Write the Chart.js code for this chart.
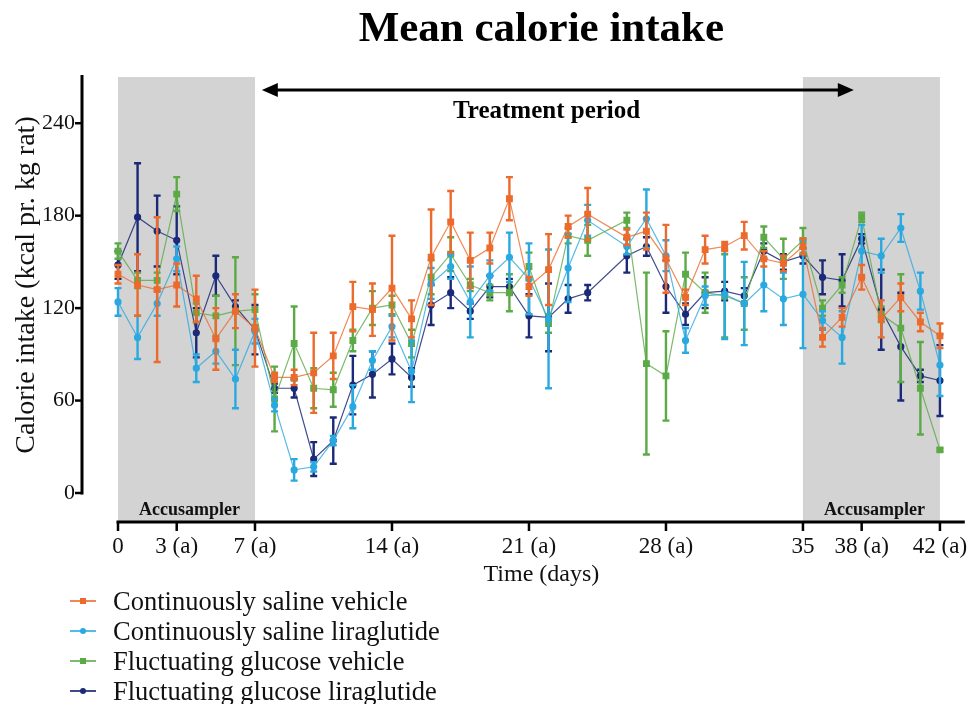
<!DOCTYPE html>
<html><head><meta charset="utf-8">
<script src="https://cdn.jsdelivr.net/npm/chart.js@4.4.1/dist/chart.umd.min.js"></script>
<style>
html,body{margin:0;padding:0;background:#fff;}
#wrap{position:relative;width:970px;height:704px;overflow:hidden;}
#c{position:absolute;left:0;top:0;}
#legend{position:absolute;left:70px;top:586px;font-family:"Liberation Serif","Times New Roman",serif;font-size:26.5px;color:#111;}
.row{height:30px;display:flex;align-items:center;white-space:nowrap;}
.sw{position:relative;width:26px;height:30px;margin-right:17px;flex:none;}
.sw .ln{position:absolute;left:0;right:0;top:14px;height:1.5px;}
.sw .mk{position:absolute;left:10px;top:12px;width:6px;height:6px;}
</style></head>
<body><div id="wrap"><canvas id="c" width="970" height="704"></canvas><div id="legend"></div></div>
<script>
// ---------- data ----------
const days = [0,1,2,3,4,5,6,7,8,9,10,11,12,13,14,15,16,17,18,19,20,21,22,23,24,26,27,28,29,30,31,32,33,34,35,36,37,38,39,40,41,42];

const salineVehicle    = [142,135,132,135,126,100,118,107,75,75,78,89,121,119,133,113,153,176,151,159,191,134,145,173,181,166,170,152,127,158,160,167,152,149,160,101,114,140,113,127,111,102];
const salineVehicleErr = [6,20,47,14,15,20,11,25,3,5,26,15,16,17,34,12,31,20,18,10,14,6,23,7,17,5,12,22,5,9,3,9,5,5,5,6,6,8,12,9,6,8];

const salineLira       = [124,101,123,152,81,92,74,105,57,15,17,34,56,86,108,79,136,147,124,141,153,139,113,146,177,160,178,154,99,128,129,123,135,126,129,112,101,157,154,172,131,83];
const salineLiraErr    = [9,14,8,8,9,8,19,8,4,7,3,3,14,6,7,20,10,8,23,10,16,23,45,22,10,5,19,10,8,6,29,27,17,17,35,6,17,17,11,9,12,20];

const glucoseVehicle   = [157,138,138,194,117,115,118,119,61,97,68,67,99,120,122,97,140,155,135,130,130,147,110,167,164,177,84,76,142,130,128,123,166,152,164,120,135,179,116,107,68,28];
const glucoseVehicleErr= [5,5,5,11,6,13,35,10,21,24,13,11,7,11,6,9,11,11,4,5,12,9,6,5,10,5,59,29,14,13,27,17,7,13,8,5,5,3,5,35,30,1];

const glucoseLira      = [148,179,170,164,104,141,121,106,68,68,22,34,70,77,87,75,122,130,118,134,134,115,114,126,130,154,160,134,116,130,131,128,157,150,154,140,138,165,119,95,76,73];
const glucoseLiraErr   = [9,35,23,22,16,13,4,16,3,6,11,15,19,15,10,6,13,10,5,7,5,14,22,9,5,11,6,17,7,10,6,5,5,5,5,11,17,3,26,35,4,23];

const seriesNames = ['Continuously saline vehicle','Continuously saline liraglutide','Fluctuating glucose vehicle','Fluctuating glucose liraglutide'];
const tickDays   = [0,3,7,14,21,28,35,38,42];
const tickLabels = ['0','3 (a)','7 (a)','14 (a)','21 (a)','28 (a)','35','38 (a)','42 (a)'];
const yTicks     = [0,60,120,180,240];
const shadedPeriods = [[0,7],[35,42]];
const shadeLabel = 'Accusampler';
const treatmentLabel = 'Treatment period';
const treatmentArrow = [7.35,37.6];

// ---------- styles ----------
const colors = ['#EC6A2C','#2AA9E0','#5BAA46','#1B2A78'];
const lineColors = ['rgba(236,106,44,0.8)','rgba(42,169,224,0.8)','rgba(91,170,70,0.8)','rgba(27,42,120,0.85)'];
const styles = ['rect','circle','rect','circle'];
const SERIF = '"Liberation Serif","Times New Roman",serif';

function pts(vals){ return days.map((d,i)=>({x:d,y:vals[i]})); }
const vals = [salineVehicle,salineLira,glucoseVehicle,glucoseLira];
const errs = [salineVehicleErr,salineLiraErr,glucoseVehicleErr,glucoseLiraErr];

const datasets = vals.map((v,k)=>({
  label: seriesNames[k],
  data: pts(v),
  errors: errs[k],
  borderColor: lineColors[k],
  backgroundColor: colors[k],
  pointBackgroundColor: colors[k],
  pointBorderColor: colors[k],
  pointStyle: styles[k],
  pointRadius: styles[k]==='rect'?4:3,
  borderWidth: 1.2,
  tension: 0,
  clip: false,
  errColor: colors[k]
}));

const errorBars = {
  id:'errorBars',
  beforeDatasetDraw(chart,args){
    const ds = chart.data.datasets[args.index];
    const ys = chart.scales.y, ctx = chart.ctx;
    ctx.save();
    ctx.strokeStyle = ds.errColor; ctx.lineWidth = 2.4; ctx.lineCap='butt';
    args.meta.data.forEach((pt,i)=>{
      const v = ds.data[i].y, e = ds.errors[i];
      const x = pt.x, yt = ys.getPixelForValue(v+e), yb = ys.getPixelForValue(v-e);
      ctx.beginPath();
      ctx.moveTo(x,yt); ctx.lineTo(x,yb);
      ctx.moveTo(x-3.5,yt); ctx.lineTo(x+3.5,yt);
      ctx.moveTo(x-3.5,yb); ctx.lineTo(x+3.5,yb);
      ctx.stroke();
    });
    ctx.restore();
  }
};

const AXIS_GAP = 29;
const decor = {
  id:'decor',
  beforeDatasetsDraw(chart){
    const {ctx, chartArea:a, scales:{x,y}} = chart;
    const xb = a.bottom + AXIS_GAP;
    ctx.save();
    ctx.fillStyle = '#D3D3D3';
    shadedPeriods.forEach(([s,e])=>{
      const x0 = x.getPixelForValue(s), x1 = x.getPixelForValue(e);
      ctx.fillRect(x0, a.top, x1-x0, xb-a.top);
    });
    // Accusampler labels
    ctx.fillStyle = '#111';
    ctx.font = 'bold 18px '+SERIF;
    ctx.textAlign='center'; ctx.textBaseline='middle';
    shadedPeriods.forEach(([s,e])=>{
      ctx.fillText(shadeLabel, x.getPixelForValue((s+e)/2)+3, xb-12);
    });
    // axes
    ctx.strokeStyle = '#000'; ctx.lineWidth = 3;
    const yax = a.left - 36;
    ctx.beginPath();
    ctx.moveTo(yax, a.top-2); ctx.lineTo(yax, y.getPixelForValue(0)+1.5);
    ctx.stroke();
    ctx.lineWidth = 2.5;
    yTicks.forEach(t=>{
      const py = y.getPixelForValue(t);
      ctx.beginPath(); ctx.moveTo(yax-7, py); ctx.lineTo(yax, py); ctx.stroke();
    });
    ctx.lineWidth = 3;
    ctx.beginPath();
    ctx.moveTo(x.getPixelForValue(0)-1.5, xb); ctx.lineTo(a.right, xb); ctx.stroke();
    ctx.lineWidth = 2.5;
    tickDays.forEach(t=>{
      const px = x.getPixelForValue(t);
      ctx.beginPath(); ctx.moveTo(px, xb); ctx.lineTo(px, xb+9); ctx.stroke();
    });
    // treatment arrow
    const ay = a.top + 13;
    const ax0 = x.getPixelForValue(treatmentArrow[0]), ax1 = x.getPixelForValue(treatmentArrow[1]);
    ctx.lineWidth = 3;
    ctx.beginPath(); ctx.moveTo(ax0+10, ay); ctx.lineTo(ax1-10, ay); ctx.stroke();
    ctx.fillStyle = '#000';
    ctx.beginPath(); ctx.moveTo(ax0, ay); ctx.lineTo(ax0+16, ay-7); ctx.lineTo(ax0+16, ay+7); ctx.closePath(); ctx.fill();
    ctx.beginPath(); ctx.moveTo(ax1, ay); ctx.lineTo(ax1-16, ay-7); ctx.lineTo(ax1-16, ay+7); ctx.closePath(); ctx.fill();
    ctx.font = 'bold 25px '+SERIF;
    ctx.fillText(treatmentLabel, x.getPixelForValue(21.9), ay+22);
    ctx.restore();
  }
};

new Chart(document.getElementById('c'), {
  type:'line',
  data:{datasets},
  plugins:[decor,errorBars],
  options:{
    responsive:false,
    animation:false,
    layout:{padding:{top:0,left:0,right:3,bottom:115}},
    plugins:{
      legend:{display:false},
      tooltip:{enabled:false},
      title:{display:true,fullSize:false,text:'Mean calorie intake',color:'#000',
        font:{family:SERIF,size:43,weight:'bold'},padding:{top:4,bottom:21.4}}
    },
    scales:{
      x:{type:'linear',min:0,max:43.27,
        grid:{display:false,drawTicks:false},border:{display:false},
        afterBuildTicks(s){ s.ticks = tickDays.map(v=>({value:v})); },
        afterFit(s){ s.height = 96; s.paddingLeft=0; s.paddingRight=0; },
        ticks:{padding:40,color:'#111',autoSkip:false,maxRotation:0,
          font:{family:SERIF,size:23},
          callback(v){ const i = tickDays.indexOf(v); return i>=0?tickLabels[i]:''; }},
        title:{display:true,text:'Time (days)',color:'#111',font:{family:SERIF,size:24},padding:{top:0,bottom:0}}
      },
      y:{min:0,max:270,
        grid:{display:false,drawTicks:false},border:{display:false},
        afterBuildTicks(s){ s.ticks = yTicks.map(v=>({value:v})); },
        afterFit(s){ s.width = 118; s.paddingTop=0; s.paddingBottom=0; },
        ticks:{padding:43,color:'#111',font:{family:SERIF,size:22}},
        title:{display:true,text:'Calorie intake (kcal pr. kg rat)',color:'#111',font:{family:SERIF,size:28},padding:{top:10,bottom:0}}
      }
    }
  }
});

// HTML legend
const lg = document.getElementById('legend');
seriesNames.forEach((n,k)=>{
  const r = document.createElement('div'); r.className='row';
  const sw = document.createElement('div'); sw.className='sw';
  const ln = document.createElement('div'); ln.className='ln'; ln.style.background = lineColors[k];
  const mk = document.createElement('div'); mk.className='mk'; mk.style.background = colors[k];
  if(styles[k]==='circle') mk.style.borderRadius='50%';
  sw.appendChild(ln); sw.appendChild(mk);
  const t = document.createElement('span'); t.textContent = n;
  r.appendChild(sw); r.appendChild(t); lg.appendChild(r);
});
</script></body></html>
